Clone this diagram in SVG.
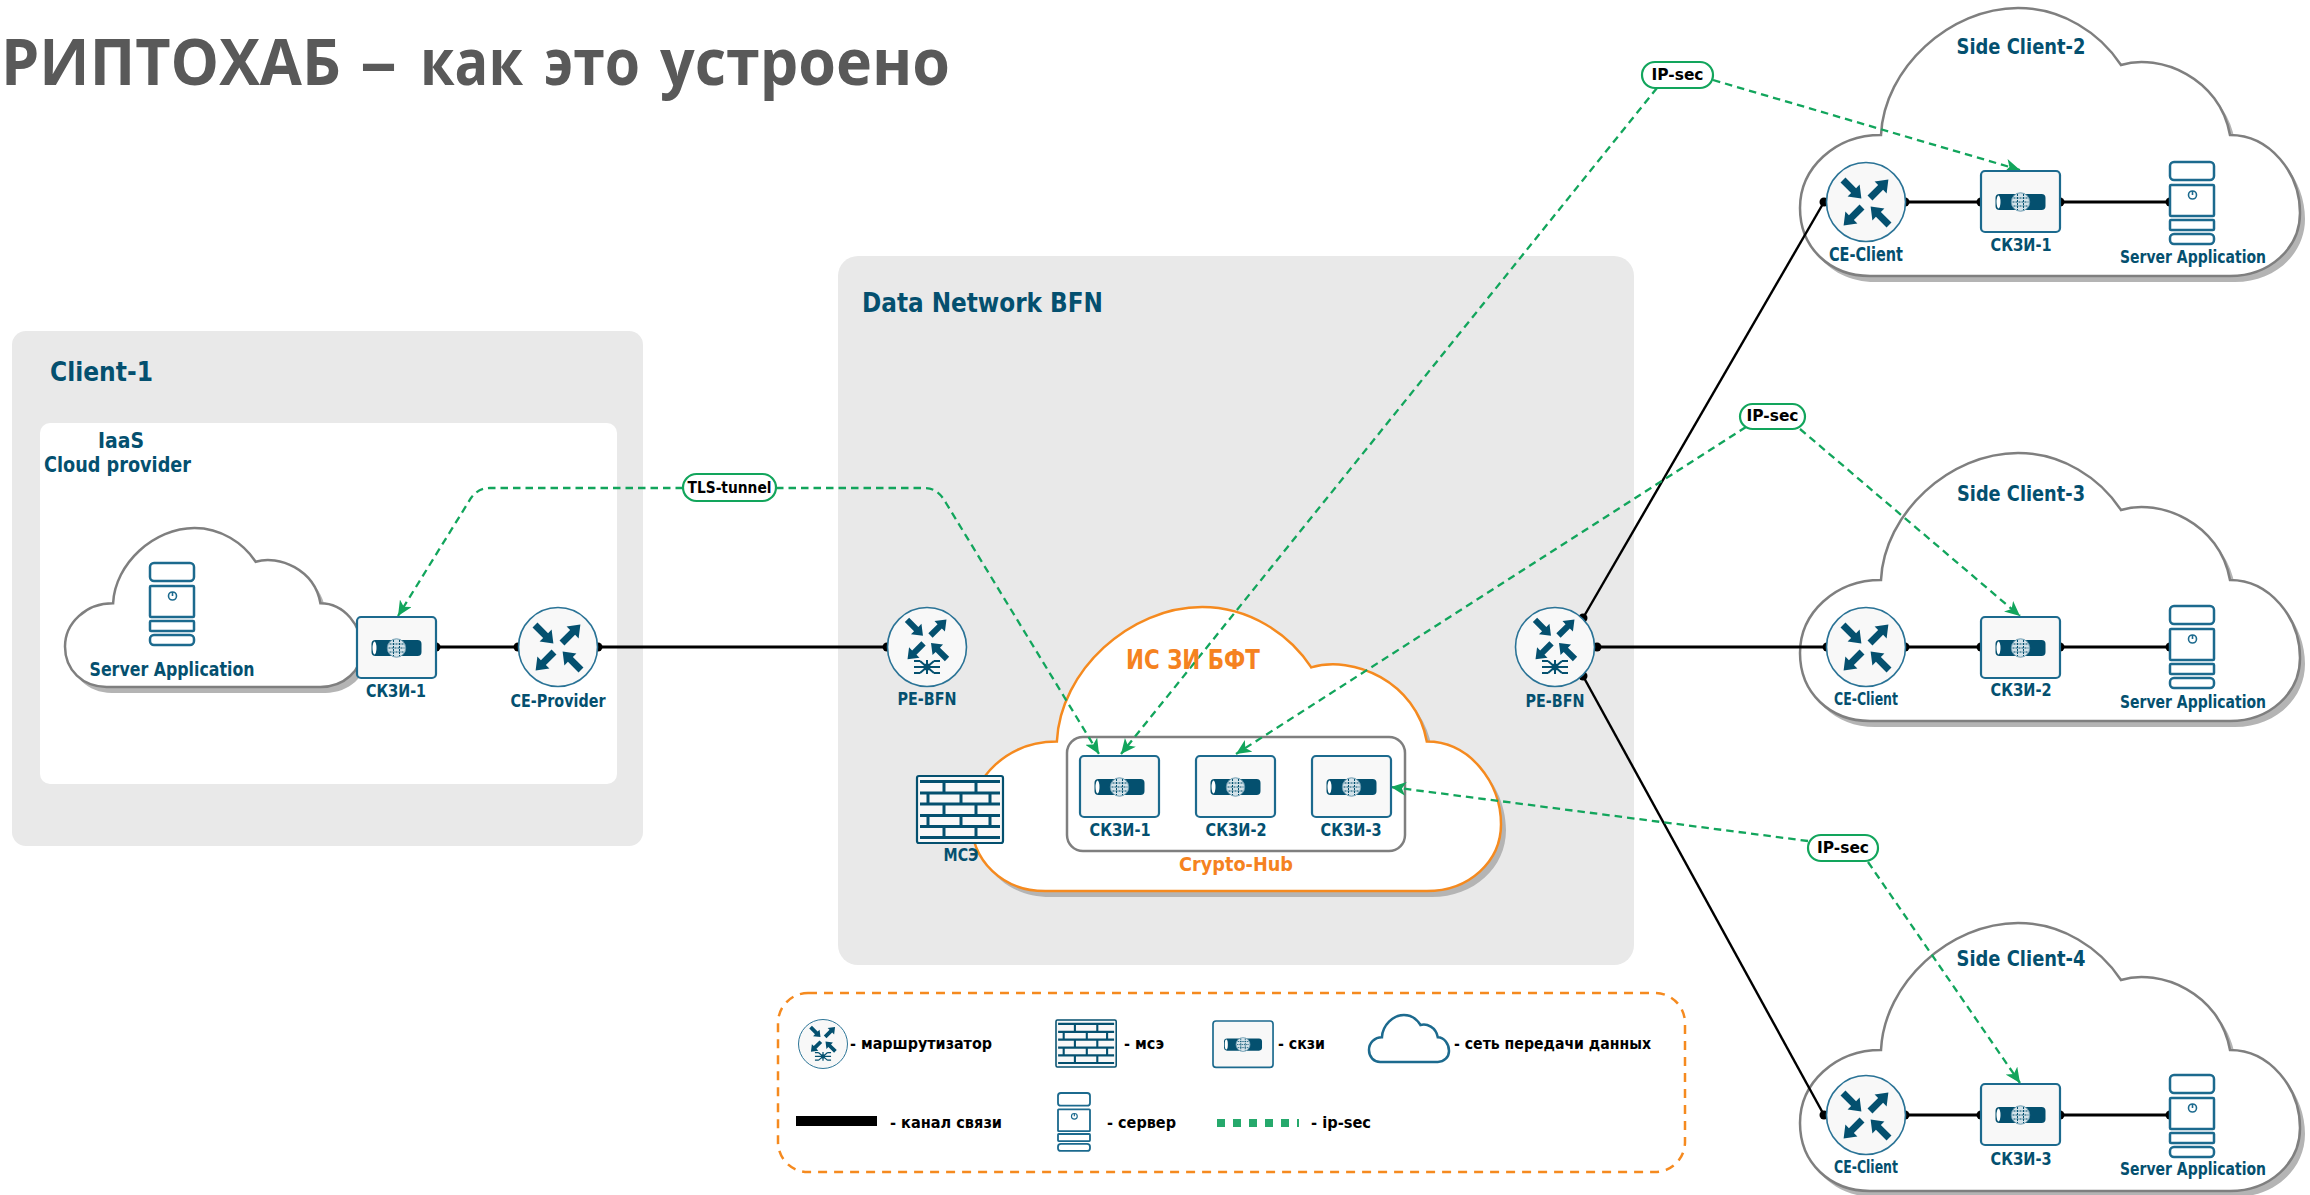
<svg xmlns="http://www.w3.org/2000/svg" xmlns:xlink="http://www.w3.org/1999/xlink" width="2310" height="1195" viewBox="0 0 2310 1195">
<style>
text{font-family:"DejaVu Sans","Noto Sans",sans-serif;font-weight:700;fill:#04506f}
.m{text-anchor:middle}
.lg{fill:#000;font-size:16px}
.or{fill:#f58220}
.panel{fill:#e9e9e9}
.cl{stroke:#000;stroke-width:3;fill:none;marker-start:url(#dot);marker-end:url(#dot)}
.dg{stroke-width:2.4}
.gl{stroke:#12a55c;stroke-width:2.3;fill:none;stroke-dasharray:7.5 5;marker-end:url(#ga)}
.pill{fill:#fff;stroke:#12a55c;stroke-width:2.2}
.pt{fill:#000;font-size:15px}
.cs{fill:#fff;stroke:#7f7f7f;stroke-width:2.5}
.sh{fill:#b4b4b4}
.ic{fill:none;stroke:#1c6a8e;stroke-width:2.5}
.dk{fill:#04506f}
</style>
<defs>
<marker id="dot" markerUnits="userSpaceOnUse" viewBox="-5 -5 10 10" markerWidth="10" markerHeight="10"><circle r="4.5" fill="#000"/></marker>
<marker id="ga" markerUnits="userSpaceOnUse" viewBox="0 0 15 14" refX="15" refY="7" markerWidth="15" markerHeight="14" orient="auto"><path d="M15,7 L0,0 L4,7 L0,14 Z" fill="#12a55c"/></marker>
<path id="cloud" style="vector-effect:non-scaling-stroke" d="M81,127 C84,60 150,0 218,0 C262,0 300,25 321,57 C360,45 420,70 430,127 C470,127 500,165 500,205 C500,240 470,268 430,268 L70,268 C30,268 0,240 0,200 C0,160 35,127 81,127 Z"/>
<path id="arw" d="M0,-3.5 L15,-3.5 L15,-8.5 L26,0 L15,8.5 L15,3.5 L0,3.5 Z"/>
<g id="arrows" class="dk">
<use href="#arw" transform="translate(-23,-22) rotate(45)"/>
<use href="#arw" transform="translate(4,-4) rotate(-45)"/>
<use href="#arw" transform="translate(-4,5) rotate(135)"/>
<use href="#arw" transform="translate(23,23) rotate(225)"/>
</g>
<g id="router"><circle r="39.5" fill="#f8f8f8" stroke="#2a7396" stroke-width="1.6"/><use href="#arrows"/></g>
<g id="pe"><circle r="39.5" fill="#f8f8f8" stroke="#2a7396" stroke-width="1.6"/><use href="#arrows" transform="translate(0,-8) scale(.87)"/>
<path transform="translate(0,20)" d="M-13,0 H13 M-7,-6 L7,6 M7,-6 L-7,6 M-13,-6 H-7 M7,-6 H13 M-13,6 H-7 M7,6 H13 M0,-7 V7" stroke="#04506f" stroke-width="2" fill="none"/><circle cy="20" r="3.5" class="dk"/></g>
<g id="pipe"><rect x="-25" y="-8" width="50" height="16" rx="4" class="dk"/><ellipse cx="-22" cy="0" rx="2" ry="6.5" fill="#fff"/><circle r="9.2" fill="#d3e2e9" stroke="#6f9db2" stroke-width="1"/><path d="M-7,-4 H7 M-8,0 H8 M-7,4 H7 M-3,-8 V8 M3,-8 V8" stroke="#04506f" stroke-width="1" stroke-dasharray="2 1" fill="none"/></g>
<g id="skzi"><rect x="0" y="0" width="79" height="61" rx="4" fill="#f8f8f8" stroke="#1c6a8e" stroke-width="2.2"/><use href="#pipe" transform="translate(39.5,31)"/></g>
<g id="server" class="ic"><rect x="0" y="0" width="44" height="18" rx="4" fill="#fff"/><rect x="0" y="23" width="44" height="31" rx="1" fill="#fff"/><rect x="0" y="58" width="44" height="10" rx="1" fill="#fff"/><rect x="0" y="72" width="44" height="10" rx="4" fill="#fff"/><circle cx="22.5" cy="33" r="4" stroke-width="1.6"/><path d="M22.5,29 V33" stroke-width="1.6"/></g>
<g id="fw"><rect x="0" y="0" width="86" height="67" rx="2" fill="#f8f8f8" stroke="#04506f" stroke-width="2.2"/><path d="M3,5.5 H83 M3,17 H83 M3,28 H83 M3,39.5 H83 M3,50.5 H83 M3,61.5 H83 M27,5.5 V17 M59,5.5 V17 M11,17 V28 M44,17 V28 M73,17 V28 M27,28 V39.5 M59,28 V39.5 M11,39.5 V50.5 M44,39.5 V50.5 M73,39.5 V50.5 M27,50.5 V61.5 M59,50.5 V61.5" stroke="#04506f" stroke-width="3" fill="none"/></g>
</defs>

<rect width="2310" height="1195" fill="#fff"/>
<text y="85" font-size="65" style="fill:#595959;font-family:'Open Sans','Noto Sans',sans-serif"><tspan x="1" textLength="340" lengthAdjust="spacingAndGlyphs">РИПТОХАБ</tspan> <tspan x="360" textLength="37" lengthAdjust="spacingAndGlyphs">–</tspan> <tspan x="420" textLength="103" lengthAdjust="spacingAndGlyphs">как</tspan> <tspan x="544" textLength="96" lengthAdjust="spacingAndGlyphs">это</tspan> <tspan x="660" textLength="290" lengthAdjust="spacingAndGlyphs">устроено</tspan></text>

<g id="panel-client-1">
<rect class="panel" x="12" y="331" width="631" height="515" rx="14"/>
<rect x="40" y="423" width="577" height="361" rx="10" fill="#fff"/>
<text x="50" y="381" font-size="26" textLength="103" lengthAdjust="spacingAndGlyphs">Client-1</text>
<text x="121" y="448" font-size="21" class="m" textLength="46" lengthAdjust="spacingAndGlyphs">IaaS</text>
<text x="44" y="472" font-size="21" textLength="147" lengthAdjust="spacingAndGlyphs">Cloud provider</text>
</g>
<g id="panel-bfn">
<rect class="panel" x="838" y="256" width="796" height="709" rx="20"/>
<text x="862" y="312" font-size="26" textLength="241" lengthAdjust="spacingAndGlyphs">Data Network BFN</text>
</g>

<g id="cloud-iaas">
<use href="#cloud" class="sh" transform="translate(70,534) scale(.594,.593)"/>
<use href="#cloud" class="cs" transform="translate(65,528) scale(.594,.593)"/>
</g>
<g id="cloud-hub">
<use href="#cloud" class="sh" transform="translate(976,613) scale(1.06,1.06)"/>
<use href="#cloud" class="cs" style="stroke:#f58a1f" transform="translate(971,607) scale(1.06,1.06)"/>
<rect x="1067" y="737" width="338" height="114" rx="16" fill="#fff" stroke="#7f7f7f" stroke-width="2.5"/>
</g>
<g id="cloud-side-2">
<use href="#cloud" class="sh" transform="translate(1805,14)"/>
<use href="#cloud" class="cs" transform="translate(1800,8)"/>
</g>
<g id="cloud-side-3">
<use href="#cloud" class="sh" transform="translate(1805,459)"/>
<use href="#cloud" class="cs" transform="translate(1800,453)"/>
</g>
<g id="cloud-side-4">
<use href="#cloud" class="sh" transform="translate(1805,929)"/>
<use href="#cloud" class="cs" transform="translate(1800,923)"/>
</g>

<g id="connectors">
<path class="cl" d="M436,647 H518"/>
<path class="cl" d="M598,647 H887"/>
<path class="cl" d="M1597,647 H1827"/>
<path class="cl dg" d="M1583,618 L1824,202"/>
<path class="cl dg" d="M1583,676 L1824,1115"/>
<path class="cl" d="M1905,202 H1981"/>
<path class="cl" d="M2060,202 H2170"/>
<path class="cl" d="M1905,647 H1981"/>
<path class="cl" d="M2060,647 H2170"/>
<path class="cl" d="M1905,1115 H1981"/>
<path class="cl" d="M2060,1115 H2170"/>
<path class="gl" d="M683,488 H490 Q478,488 471,498 L398,616"/>
<path class="gl" d="M776,488 H925 Q938,488 946,503 L1099,754"/>
<path class="gl" d="M1657,88 L1121,754"/>
<path class="gl" d="M1713,80 L2020,170"/>
<path class="gl" d="M1746,427 L1236,754"/>
<path class="gl" d="M1800,429 L2020,616"/>
<path class="gl" d="M1808,841 L1391,787"/>
<path class="gl" d="M1868,862 L2020,1083"/>
</g>

<g id="node-sa-1"><use href="#server" x="150" y="563"/><text x="172" y="676" font-size="20" class="m" textLength="165" lengthAdjust="spacingAndGlyphs">Server Application</text></g>
<g id="node-skzi-client"><use href="#skzi" x="357" y="617"/><text x="396" y="697" font-size="18" class="m" textLength="60" lengthAdjust="spacingAndGlyphs">СКЗИ-1</text></g>
<g id="node-ce-provider"><use href="#router" x="558" y="647"/><text x="558" y="707" font-size="18" class="m" textLength="95" lengthAdjust="spacingAndGlyphs">CE-Provider</text></g>
<g id="node-pe-left"><use href="#pe" x="927" y="647"/><text x="927" y="705" font-size="18" class="m" textLength="59" lengthAdjust="spacingAndGlyphs">PE-BFN</text></g>
<g id="node-pe-right"><use href="#pe" x="1555" y="647"/><text x="1555" y="707" font-size="18" class="m" textLength="59" lengthAdjust="spacingAndGlyphs">PE-BFN</text></g>
<g id="node-fw"><use href="#fw" x="917" y="776"/><text x="961" y="861" font-size="18" class="m" textLength="35" lengthAdjust="spacingAndGlyphs">МСЭ</text></g>
<g id="node-hub-title"><text x="1193" y="669" font-size="27" class="m or" textLength="134" lengthAdjust="spacingAndGlyphs">ИС ЗИ БФТ</text><text x="1236" y="871" font-size="20" class="m or" textLength="114" lengthAdjust="spacingAndGlyphs">Crypto-Hub</text></g>
<g id="node-hub-1"><use href="#skzi" x="1080" y="756"/><text x="1120" y="836" font-size="18" class="m" textLength="61" lengthAdjust="spacingAndGlyphs">СКЗИ-1</text></g>
<g id="node-hub-2"><use href="#skzi" x="1196" y="756"/><text x="1236" y="836" font-size="18" class="m" textLength="61" lengthAdjust="spacingAndGlyphs">СКЗИ-2</text></g>
<g id="node-hub-3"><use href="#skzi" x="1312" y="756"/><text x="1351" y="836" font-size="18" class="m" textLength="61" lengthAdjust="spacingAndGlyphs">СКЗИ-3</text></g>

<g id="node-side-2">
<text x="2021" y="54" font-size="22" class="m" textLength="129" lengthAdjust="spacingAndGlyphs">Side Client-2</text>
<use href="#router" x="1866" y="202"/><text x="1866" y="261" font-size="19" class="m" textLength="74" lengthAdjust="spacingAndGlyphs">CE-Client</text>
<use href="#skzi" x="1981" y="171"/><text x="2021" y="251" font-size="18" class="m" textLength="61" lengthAdjust="spacingAndGlyphs">СКЗИ-1</text>
<use href="#server" x="2170" y="162"/><text x="2193" y="263" font-size="18" class="m" textLength="146" lengthAdjust="spacingAndGlyphs">Server Application</text>
</g>
<g id="node-side-3">
<text x="2021" y="501" font-size="22" class="m" textLength="128" lengthAdjust="spacingAndGlyphs">Side Client-3</text>
<use href="#router" x="1866" y="647"/><text x="1866" y="705" font-size="17" class="m" textLength="64" lengthAdjust="spacingAndGlyphs">CE-Client</text>
<use href="#skzi" x="1981" y="617"/><text x="2021" y="696" font-size="18" class="m" textLength="61" lengthAdjust="spacingAndGlyphs">СКЗИ-2</text>
<use href="#server" x="2170" y="606"/><text x="2193" y="708" font-size="18" class="m" textLength="146" lengthAdjust="spacingAndGlyphs">Server Application</text>
</g>
<g id="node-side-4">
<text x="2021" y="966" font-size="22" class="m" textLength="129" lengthAdjust="spacingAndGlyphs">Side Client-4</text>
<use href="#router" x="1866" y="1115"/><text x="1866" y="1173" font-size="17" class="m" textLength="64" lengthAdjust="spacingAndGlyphs">CE-Client</text>
<use href="#skzi" x="1981" y="1084"/><text x="2021" y="1165" font-size="18" class="m" textLength="61" lengthAdjust="spacingAndGlyphs">СКЗИ-3</text>
<use href="#server" x="2170" y="1075"/><text x="2193" y="1175" font-size="18" class="m" textLength="146" lengthAdjust="spacingAndGlyphs">Server Application</text>
</g>

<g id="label-tls"><rect class="pill" x="683" y="474" width="93" height="27" rx="13.5"/><text class="pt m" x="729.5" y="493" textLength="84" lengthAdjust="spacingAndGlyphs">TLS-tunnel</text></g>
<g id="label-ipsec-1"><rect class="pill" x="1642" y="62" width="71" height="26" rx="13"/><text class="pt m" x="1677.5" y="80" textLength="52" lengthAdjust="spacingAndGlyphs">IP-sec</text></g>
<g id="label-ipsec-2"><rect class="pill" x="1740" y="404" width="65" height="25" rx="12.5"/><text class="pt m" x="1772.5" y="421" textLength="52" lengthAdjust="spacingAndGlyphs">IP-sec</text></g>
<g id="label-ipsec-3"><rect class="pill" x="1808" y="835" width="70" height="26" rx="13"/><text class="pt m" x="1843" y="853" textLength="52" lengthAdjust="spacingAndGlyphs">IP-sec</text></g>

<g id="legend">
<rect x="778" y="993" width="907" height="179" rx="30" fill="none" stroke="#f58a1f" stroke-width="2.5" stroke-dasharray="9 7"/>
<use href="#pe" transform="translate(823,1044) scale(.62)"/>
<text class="lg" x="850" y="1049" textLength="142" lengthAdjust="spacingAndGlyphs">- маршрутизатор</text>
<use href="#fw" transform="translate(1056,1020) scale(.7)"/>
<text class="lg" x="1124" y="1049" textLength="40" lengthAdjust="spacingAndGlyphs">- мсэ</text>
<use href="#skzi" transform="translate(1213,1021) scale(.76)"/>
<text class="lg" x="1278" y="1049" textLength="47" lengthAdjust="spacingAndGlyphs">- скзи</text>
<use href="#cloud" style="fill:none;stroke:#1c6a8e;stroke-width:2.5" transform="translate(1369,1015) scale(.16,.175)"/>
<text class="lg" x="1454" y="1049" textLength="197" lengthAdjust="spacingAndGlyphs">- сеть передачи данных</text>
<rect x="796" y="1116" width="81" height="10"/>
<text class="lg" x="890" y="1128" textLength="112" lengthAdjust="spacingAndGlyphs">- канал связи</text>
<use href="#server" transform="translate(1058,1093) scale(.727,.707)"/>
<text class="lg" x="1107" y="1128" textLength="69" lengthAdjust="spacingAndGlyphs">- сервер</text>
<path d="M1217,1123 H1299" stroke="#26a96c" stroke-width="8" stroke-dasharray="8 8" fill="none"/>
<text class="lg" x="1311" y="1128" textLength="60" lengthAdjust="spacingAndGlyphs">- ip-sec</text>
</g>
</svg>
